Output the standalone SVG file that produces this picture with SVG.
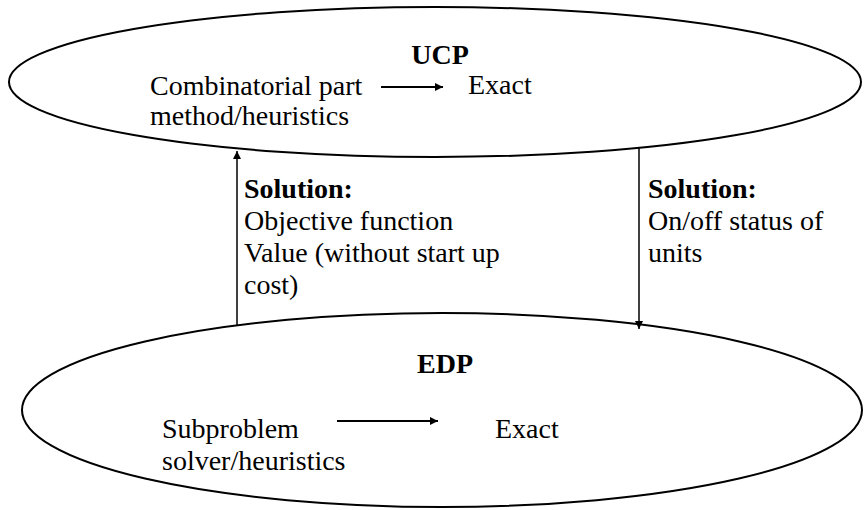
<svg xmlns="http://www.w3.org/2000/svg" width="864" height="510" viewBox="0 0 864 510">
<style>
text{font-family:'Liberation Serif','Times New Roman','DejaVu Serif',serif;font-size:28px;fill:#000}
.b{font-weight:bold}
.ell{fill:none;stroke:#000;stroke-width:2}
.con{stroke:#000;stroke-width:1.5;fill:none}
.inl{stroke:#000;stroke-width:2;fill:none}
</style>
<defs>
<marker id="ah" viewBox="0 0 10 10" refX="10" refY="5" markerWidth="8" markerHeight="8" markerUnits="userSpaceOnUse" orient="auto"><path d="M0,0 L10,5 L0,10 z" fill="#000"/></marker>
<marker id="ah2" viewBox="0 0 10 10" refX="10" refY="5" markerWidth="10" markerHeight="8" markerUnits="userSpaceOnUse" orient="auto"><path d="M0,0 L10,5 L0,10 z" fill="#000"/></marker>
</defs>
<g id="ucp" font-family="Liberation Serif, serif">
<ellipse class="ell" cx="435" cy="82" rx="426" ry="75"/>
<text class="b" x="440" y="64" text-anchor="middle">UCP</text>
<text x="150" y="95">Combinatorial part</text>
<text x="150" y="125">method/heuristics</text>
<line class="inl" x1="381" y1="87" x2="443" y2="87" marker-end="url(#ah2)"/>
<text x="468" y="94">Exact</text>
</g>
<g id="edp" font-family="Liberation Serif, serif">
<ellipse class="ell" cx="442" cy="410" rx="420" ry="97"/>
<text class="b" x="445" y="373" text-anchor="middle">EDP</text>
<text x="162" y="438">Subproblem</text>
<text x="162" y="470">solver/heuristics</text>
<line class="inl" x1="337" y1="421" x2="438" y2="421" marker-end="url(#ah2)"/>
<text x="495" y="438">Exact</text>
</g>
<g id="connectors">
<line class="con" x1="237" y1="326" x2="237" y2="151" marker-end="url(#ah)"/>
<line class="con" x1="639" y1="148" x2="639" y2="329" marker-end="url(#ah)"/>
</g>
<g id="labels" font-family="Liberation Serif, serif">
<text class="b" x="244" y="198">Solution:</text>
<text x="244" y="230">Objective function</text>
<text x="244" y="262">Value (without start up</text>
<text x="244" y="294">cost)</text>
<text class="b" x="648" y="198">Solution:</text>
<text x="648" y="230">On/off status of</text>
<text x="648" y="262">units</text>
</g>
</svg>
